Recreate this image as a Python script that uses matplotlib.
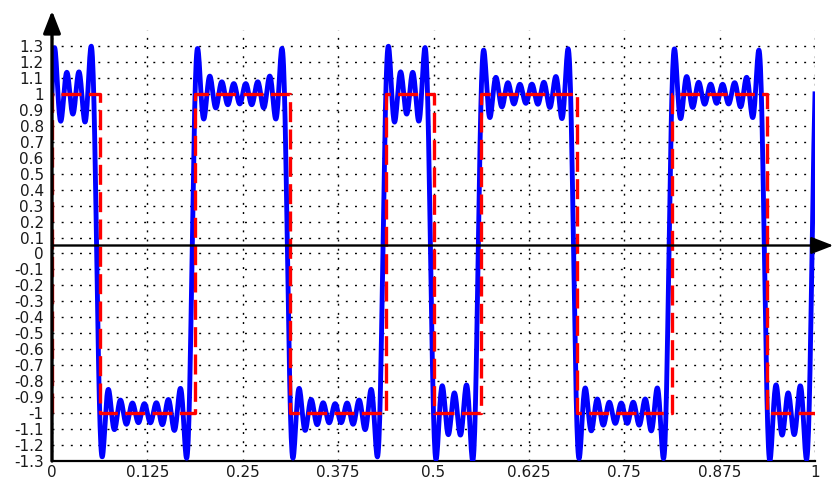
import numpy as np
import matplotlib.pyplot as plt

# square wave: switching instants and the level held after each one
edges = [0.0, 0.0625, 0.1875, 0.3125, 0.4375, 0.5, 0.5625, 0.6875, 0.8125, 0.9375, 1.0]
levels = [1, -1, 1, -1, 1, -1, 1, -1, 1, -1]

n_samples = 128       # samples per period fed to the DFT

x_ticks = [0, 0.125, 0.25, 0.375, 0.5, 0.625, 0.75, 0.875, 1]
x_labels = ["0", "0.125", "0.25", "0.375", "0.5", "0.625", "0.75", "0.875", "1"]
y_ticks = [-1.3, -1.2, -1.1, -1.0, -0.9, -0.8, -0.7, -0.6, -0.5, -0.4, -0.3, -0.2, -0.1,
           0.0, 0.1, 0.2, 0.3, 0.4, 0.5, 0.6, 0.7, 0.8, 0.9, 1.0, 1.1, 1.2, 1.3]
y_labels = ["%g" % v for v in y_ticks]
axis_level = 0.05     # height of the horizontal arrow


def trig_interp(edges, levels, n, t):
    # sample the step signal n times per period, then rebuild it from the DFT
    ts = np.arange(n) / n
    idx = np.searchsorted(edges, ts, side="right") - 1
    s = np.asarray(levels, float)[idx]
    c = np.fft.fft(s) / n
    half = n // 2
    k = np.arange(1, half)
    phase = np.exp(2j * np.pi * np.outer(t, k))
    out = c[0].real + 2 * (phase @ c[1:half]).real
    out += (c[half] * np.cos(2 * np.pi * half * t)).real
    return out


t = np.linspace(0, 1, 2001)
approx = trig_interp(edges, levels, n_samples, t)

# step outline of the square wave, starting from the level before t=0
xr = np.repeat(edges, 2)[:-1]
yr = np.concatenate([[levels[-1]], np.repeat(levels, 2)])

fig = plt.figure(figsize=(8.36, 4.82), dpi=100)
ax = fig.add_axes([52 / 836, 21 / 482, 763 / 836, 431 / 482])

ax.plot(t, approx, color="#0000ff", lw=3.5, zorder=3)
ax.plot(xr, yr, color="#ff0000", lw=2.4, dashes=(6, 2.2), zorder=4)

ax.set_xlim(0, 1)
ax.set_ylim(-1.3, 1.4)
ax.set_xticks(x_ticks)
ax.set_xticklabels(x_labels)
ax.set_yticks(y_ticks)
ax.set_yticklabels(y_labels)
ax.tick_params(length=0, labelsize=11, colors="#1a1a1a")
ax.tick_params(axis="y", pad=6)
ax.tick_params(axis="x", pad=3)
ax.grid(True, color="black", lw=1.0, linestyle=(0, (1.4, 5.2)))

for side in ["top", "right", "left"]:
    ax.spines[side].set_visible(False)
ax.spines["bottom"].set_linewidth(1.6)

# y axis with arrow head above the plot
ax.annotate("", xy=(0, 1.045), xytext=(0, 0), xycoords="axes fraction",
            arrowprops=dict(arrowstyle="-|>,head_length=0.9,head_width=0.35",
                            lw=2.4, color="black", mutation_scale=15,
                            shrinkA=0, shrinkB=0), zorder=6)
# x axis arrow running past the right edge
ax.annotate("", xy=(1.024, axis_level), xytext=(0, axis_level),
            xycoords=ax.get_yaxis_transform(),
            arrowprops=dict(arrowstyle="-|>,head_length=0.9,head_width=0.35",
                            lw=1.7, color="black", mutation_scale=15,
                            shrinkA=0, shrinkB=0), zorder=6)

fig.savefig("out.png", dpi=100)
